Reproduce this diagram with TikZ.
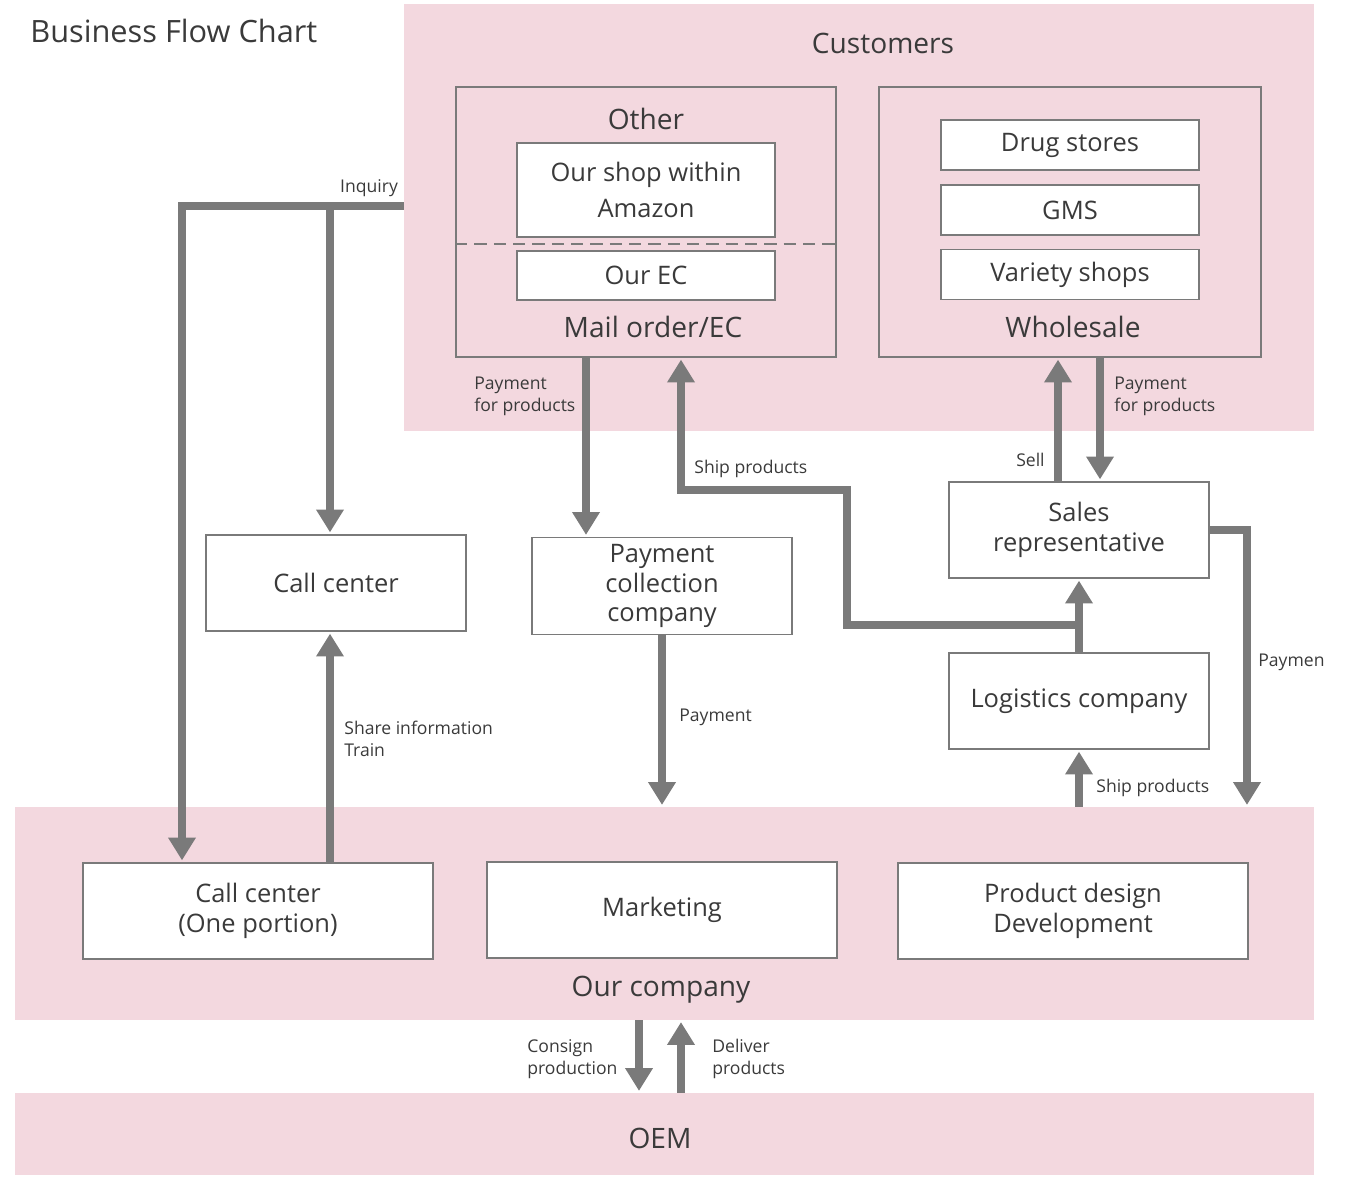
\documentclass[tikz,border=0pt]{standalone}
\usepackage{fontspec}
\setmainfont{Open Sans}
\usetikzlibrary{arrows.meta,positioning}
\definecolor{bizpink}{HTML}{F3D8DF}
\definecolor{flowgray}{HTML}{7A7A7A}
\definecolor{inkgray}{HTML}{3A3A3A}

\tikzset{
  area/.style={fill=bizpink, draw=none, inner sep=0pt},
  box/.style={draw=flowgray, line width=1pt, fill=white, text=inkgray,
    font=\fontsize{14.5}{17}\selectfont, align=center, inner sep=0pt},
  bigtxt/.style={text=inkgray, font=\fontsize{16}{19}\selectfont, inner sep=0pt},
  smalltxt/.style={text=inkgray, font=\fontsize{10}{12.5}\selectfont, inner sep=0pt, align=left},
  flow/.style={draw=flowgray, line width=4.5pt, -{Triangle[width=15pt,length=13pt]}, shorten >=1pt},
}

\begin{document}
\begin{tikzpicture}[x=0.02cm, y=-0.02cm]
  \useasboundingbox (0,0) rectangle (1349,1177);

  % pink areas
  \node[area, minimum width=18.2cm, minimum height=8.54cm] (customers) at (859,217.5) {};
  \node[area, minimum width=25.98cm, minimum height=4.26cm] (ourco) at (664.5,913.5) {};
  \node[area, minimum width=25.98cm, minimum height=1.64cm] (oem) at (664.5,1134) {};

  % customer side
  \node[box, fill=bizpink, minimum width=7.6cm, minimum height=5.4cm] (mail) at (646,222) {};
  \node[box, fill=bizpink, minimum width=7.64cm, minimum height=5.4cm] (wholesale) at (1070,222) {};
  \node[box, minimum width=5.16cm, minimum height=1.88cm] (amazon) at (646,190) {Our shop within\\[3.5pt]Amazon};
  \node[box, minimum width=5.16cm, minimum height=0.98cm] (ourec) at (646,275.5) {Our EC};
  \node[box, minimum width=5.16cm, minimum height=1cm] (drug) at (1070,145) {Drug stores};
  \node[box, minimum width=5.16cm, minimum height=1cm] (gms) at (1070,210) {GMS};
  \node[box, minimum width=5.16cm, minimum height=1cm] (variety) at (1070,274.5) {Variety shops};

  \coordinate (dashY) at (0,244);
  \draw[flowgray, line width=1pt, dash pattern=on 7pt off 4pt] (mail.west |- dashY) -- (mail.east |- dashY);

  % middle boxes
  \node[box, minimum width=5.2cm, minimum height=1.92cm] (callc) at (336,583) {Call center};
  \node[box, minimum width=5.2cm, minimum height=1.94cm] (paycol) at (662,586) {Payment\\collection\\company};
  \node[box, minimum width=5.2cm, minimum height=1.92cm] (sales) at (1079,530) {Sales\\representative};
  \node[box, minimum width=5.2cm, minimum height=1.92cm] (logis) at (1079,701) {Logistics company};

  % our company
  \node[box, minimum width=7cm, minimum height=1.92cm] (callone) at (258,911) {Call center\\(One portion)};
  \node[box, minimum width=7cm, minimum height=1.92cm] (mkt) at (662,910) {Marketing};
  \node[box, minimum width=7cm, minimum height=1.92cm] (prod) at (1073,911) {Product design\\Development};

  % headings
  \node[bigtxt, font=\fontsize{17.5}{20}\selectfont, anchor=west] (title) at (30,31) {Business Flow Chart};
  \node[bigtxt] (custlbl) at (883,43) {Customers};
  \node[bigtxt] (otherlbl) at (646,119) {Other};
  \node[bigtxt] (maillbl) at (653,327) {Mail order/EC};
  \node[bigtxt] (wholelbl) at (1073,327) {Wholesale};
  \node[bigtxt] (ourcolbl) at (661,990) {Our company};
  \node[bigtxt] (oemlbl) at (660,1138) {OEM};

  % turning points
  \coordinate (inq) at (182,206);
  \coordinate (shr) at (330,206);
  \coordinate (pfpX) at (586,0);
  \coordinate (shipX) at (681,0);
  \coordinate (shipA) at (847,490);
  \coordinate (shipB) at (1079,625);
  \coordinate (sellX) at (1058,0);
  \coordinate (pfpRX) at (1100,0);
  \coordinate (payRX) at (1247,0);
  \coordinate (consX) at (639,0);
  \coordinate (delX) at (681,0);

  % flows
  \draw[flow] (customers.west |- inq) -| (callone.north -| inq);
  \draw[flow] (shr) -- (callc.north -| shr);
  \draw[flow] (callone.north -| shr) -- (callc.south -| shr);
  \draw[flow] (mail.south -| pfpX) -- (paycol.north -| pfpX);
  \draw[flow] (logis.north) -- (sales.south);
  \draw[flow] (shipB) -| (shipA) -| (mail.south -| shipX);
  \draw[flow] (paycol.south) -- (paycol.south |- ourco.north);
  \draw[flow] (sales.north -| sellX) -- (wholesale.south -| sellX);
  \draw[flow] (wholesale.south -| pfpRX) -- (sales.north -| pfpRX);
  \draw[flow] (sales.east) -| (ourco.north -| payRX);
  \draw[flow] (logis.south |- ourco.north) -- (logis.south);
  \draw[flow] (ourco.south -| consX) -- (oem.north -| consX);
  \draw[flow] (oem.north -| delX) -- (ourco.south -| delX);

  % flow labels
  \node[smalltxt] (inqlbl) at (369,188) {Inquiry};
  \node[smalltxt, anchor=west] (pfplbl) at (474,396) {Payment\\for products};
  \node[smalltxt, anchor=west] (shiplbl) at (694,469) {Ship products};
  \node[smalltxt, anchor=west] (sharelbl) at (344,739) {Share information\\Train};
  \node[smalltxt, anchor=west] (paylbl) at (679,717) {Payment};
  \node[smalltxt, anchor=east] (selllbl) at (1045,460) {Sell};
  \node[smalltxt, anchor=west] (pfprlbl) at (1114,396) {Payment\\for products};
  \node[smalltxt, anchor=west] (payrlbl) at (1258,662) {Paymen};
  \node[smalltxt, anchor=west] (shipblbl) at (1096,788) {Ship products};
  \node[smalltxt, anchor=west] (conslbl) at (527,1059) {Consign\\production};
  \node[smalltxt, anchor=west] (dellbl) at (712,1059) {Deliver\\products};
\end{tikzpicture}
\end{document}
